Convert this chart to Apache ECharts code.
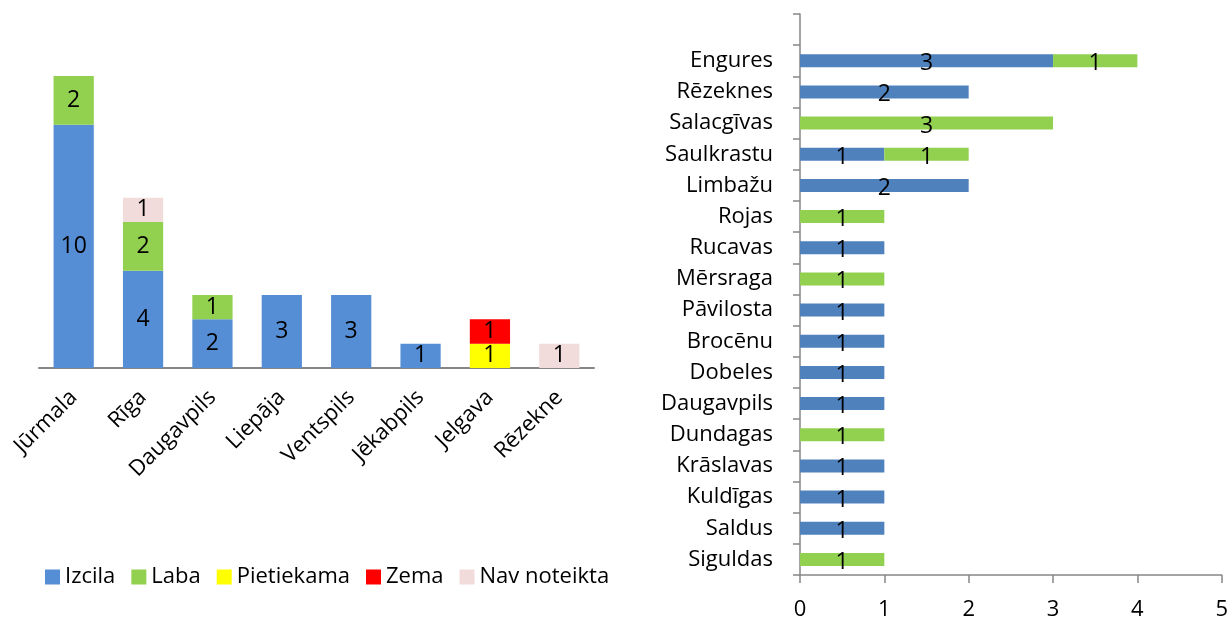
<!DOCTYPE html>
<html>
<head>
<meta charset="utf-8">
<script src="https://cdn.jsdelivr.net/npm/echarts@6/dist/echarts.min.js"></script>
<style>
  html, body { margin: 0; padding: 0; background: #fff; }
  #chart { width: 1231px; height: 621px; }
</style>
</head>
<body>
<div id="chart"></div>
<script>
// left chart: cities
const cities = ['Jūrmala', 'Rīga', 'Daugavpils', 'Liepāja', 'Ventspils', 'Jēkabpils', 'Jelgava', 'Rēzekne']
const cityIzcila = [10, 4, 2, 3, 3, 1, 0, 0]
const cityLaba = [2, 2, 1, 0, 0, 0, 0, 0]
const cityPietiekama = [0, 0, 0, 0, 0, 0, 1, 0]
const cityZema = [0, 0, 0, 0, 0, 0, 1, 0]
const cityNav = [0, 1, 0, 0, 0, 0, 0, 1]

// right chart: municipalities (top empty slot kept as in the original)
const towns = ['', 'Engures', 'Rēzeknes', 'Salacgīvas', 'Saulkrastu', 'Limbažu', 'Rojas', 'Rucavas',
  'Mērsraga', 'Pāvilosta', 'Brocēnu', 'Dobeles', 'Daugavpils', 'Dundagas', 'Krāslavas',
  'Kuldīgas', 'Saldus', 'Siguldas']
const townIzcila = [0, 3, 2, 0, 1, 2, 0, 1, 0, 1, 1, 1, 1, 0, 1, 1, 1, 0]
const townLaba = [0, 1, 0, 3, 1, 0, 1, 0, 1, 0, 0, 0, 0, 1, 0, 0, 0, 1]
const townTicks = [0, 1, 2, 3, 4, 5]

const font = 'Open Sans'
const axisGray = '#868686'

const hideZero = (p) => (p.value ? String(p.value) : '')

const leftLabel = {
  show: true,
  position: 'inside',
  formatter: hideZero,
  color: '#000',
  fontSize: 23,
  fontFamily: font,
}

const rightLabel = {
  show: true,
  position: 'inside',
  offset: [0, 3],
  formatter: hideZero,
  color: '#000',
  fontSize: 23,
  fontFamily: font,
}

const leftSeries = [
  ['Izcila', cityIzcila, '#558ED5'],
  ['Laba', cityLaba, '#92D050'],
  ['Pietiekama', cityPietiekama, '#FFFF00'],
  ['Zema', cityZema, '#FF0000'],
  ['Nav noteikta', cityNav, '#F2DCDB'],
].map(([name, data, color]) => ({
  name,
  type: 'bar',
  stack: 'city',
  xAxisIndex: 0,
  yAxisIndex: 0,
  barCategoryGap: '42%',
  data,
  itemStyle: { color },
  label: leftLabel,
}))

const rightSeries = [
  ['Izcila', townIzcila, '#4F81BD'],
  ['Laba', townLaba, '#92D050'],
].map(([name, data, color]) => ({
  name: name + ' ',
  type: 'bar',
  stack: 'town',
  xAxisIndex: 1,
  yAxisIndex: 1,
  barWidth: 13,
  data,
  itemStyle: { color },
  label: rightLabel,
}))

const chart = echarts.init(document.getElementById('chart'))

chart.setOption({
  animation: false,
  textStyle: { fontFamily: font },
  legend: {
    data: ['Izcila', 'Laba', 'Pietiekama', 'Zema', 'Nav noteikta'],
    left: 40,
    top: 561,
    icon: 'rect',
    itemWidth: 15,
    itemHeight: 15,
    itemGap: 16,
    textStyle: { fontSize: 22, color: '#000', fontFamily: font },
  },
  grid: [
    { left: 39, width: 555, top: 76, height: 292 },
    { left: 800, right: 7, top: 14, bottom: 45 },
  ],
  xAxis: [
    {
      type: 'category',
      gridIndex: 0,
      data: cities,
      axisLine: { lineStyle: { color: axisGray, width: 2 } },
      axisTick: { show: false },
      axisLabel: { rotate: 45, interval: 0, fontSize: 22, color: '#000', margin: 26 },
    },
    {
      type: 'value',
      gridIndex: 1,
      min: townTicks[0],
      max: townTicks[townTicks.length - 1],
      interval: 1,
      axisLine: { show: true, lineStyle: { color: axisGray, width: 1.5 } },
      axisTick: { show: true, length: 8, lineStyle: { color: axisGray, width: 1.5 } },
      splitLine: { show: false },
      axisLabel: { fontSize: 22, color: '#000', margin: 24 },
    },
  ],
  yAxis: [
    {
      type: 'value',
      gridIndex: 0,
      min: 0,
      max: 12,
      show: false,
    },
    {
      type: 'category',
      gridIndex: 1,
      inverse: true,
      data: towns,
      axisLine: { lineStyle: { color: axisGray, width: 1.5 } },
      axisTick: { show: true, length: 7, lineStyle: { color: axisGray, width: 1.5 } },
      axisLabel: { interval: 0, fontSize: 22, color: '#000', margin: 27 },
    },
  ],
  series: [...leftSeries, ...rightSeries],
})
</script>
</body>
</html>
